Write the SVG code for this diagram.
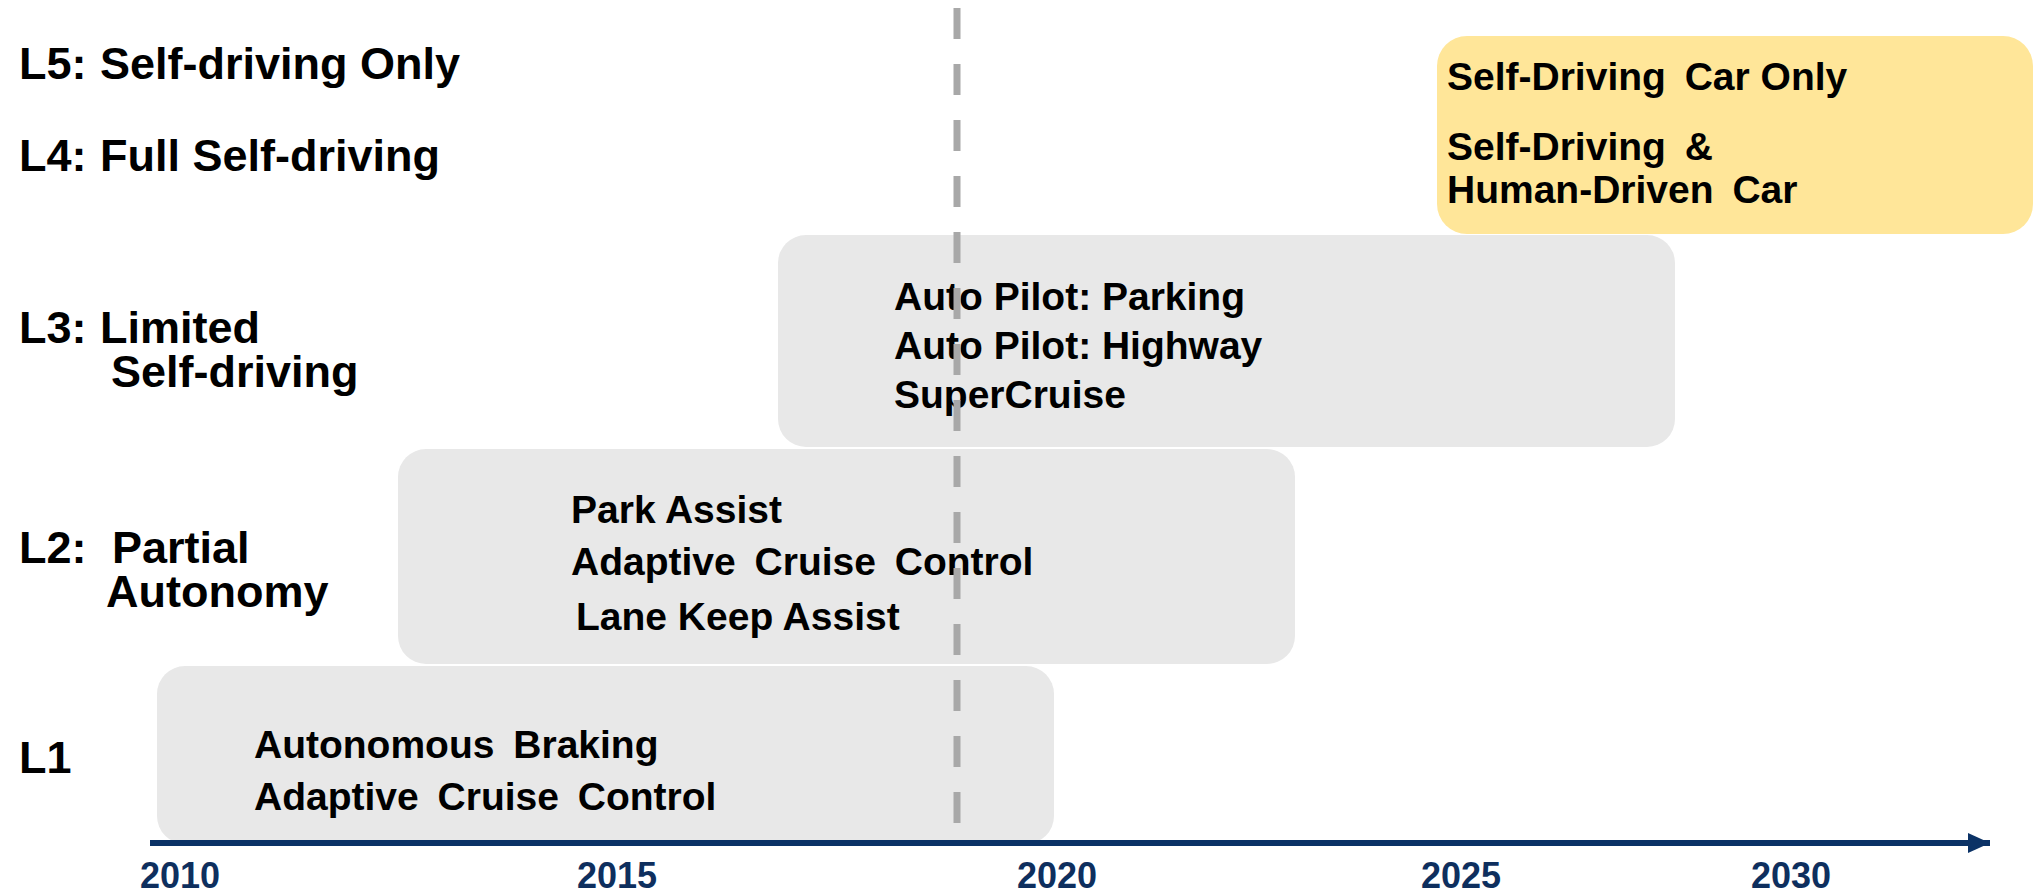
<svg xmlns="http://www.w3.org/2000/svg" width="2033" height="896" viewBox="0 0 2033 896">
<defs>
<style>
.lbl{font-family:"Liberation Sans",Arial,sans-serif;font-weight:bold;font-size:45px;fill:#000}
.txt{font-family:"Liberation Sans",Arial,sans-serif;font-weight:bold;font-size:39px;fill:#000}
.yr{font-family:"Liberation Sans",Arial,sans-serif;font-weight:bold;font-size:36px;fill:#0E2F5E;text-anchor:middle}
.gbox{fill:#E8E8E8}
.ybox{fill:#FFE699}
.axis{stroke:#0B3266;stroke-width:6;fill:none}
.dash{stroke:#A8A8A8;stroke-width:7;stroke-dasharray:31 25;fill:none}
</style>
<marker id="arr" markerUnits="userSpaceOnUse" markerWidth="24" markerHeight="22" refX="22" refY="11" orient="auto">
<path d="M0,1 L22,11 L0,21 Z" fill="#0B3266"/>
</marker>
</defs>
<rect width="2033" height="896" fill="#fff"/>

<g id="levels">
<text class="lbl" x="19" y="79">L5:<tspan x="100">Self-driving Only</tspan></text>
<text class="lbl" x="19" y="171">L4:<tspan x="100">Full Self-driving</tspan></text>
<text class="lbl" x="19" y="343">L3:<tspan x="100">Limited</tspan><tspan x="111" y="387">Self-driving</tspan></text>
<text class="lbl" x="19" y="563">L2:<tspan x="112">Partial</tspan><tspan x="106" y="607">Autonomy</tspan></text>
<text class="lbl" x="19" y="773">L1</text>
</g>

<g id="node-l1">
<rect class="gbox" x="157" y="666" width="897" height="178" rx="28"/>
<text class="txt" x="254" y="758" word-spacing="8">Autonomous Braking<tspan x="254" y="810">Adaptive Cruise Control</tspan></text>
</g>

<g id="node-l2">
<rect class="gbox" x="398" y="449" width="897" height="215" rx="28"/>
<text class="txt" x="571" y="523">Park Assist<tspan x="571" y="575" word-spacing="8">Adaptive Cruise Control</tspan><tspan x="576" y="630">Lane Keep Assist</tspan></text>
</g>

<g id="node-l3">
<rect class="gbox" x="778" y="235" width="897" height="212" rx="28"/>
<text class="txt" x="894" y="310">Auto Pilot: Parking<tspan x="894" y="359">Auto Pilot: Highway</tspan><tspan x="894" y="408">SuperCruise</tspan></text>
</g>

<g id="node-l45">
<rect class="ybox" x="1437" y="36" width="596" height="198" rx="30"/>
<text class="txt" x="1447" y="90">Self-Driving <tspan dx="8">Car Only</tspan></text>
<text class="txt" x="1447" y="160" word-spacing="8">Self-Driving &amp;<tspan x="1447" y="203">Human-Driven Car</tspan></text>
</g>

<g id="connectors">
<line class="axis" x1="150" y1="843" x2="1990" y2="843" marker-end="url(#arr)"/>
<line class="dash" x1="957" y1="8" x2="957" y2="823"/>
</g>

<g id="years">
<text class="yr" x="180" y="888">2010</text>
<text class="yr" x="617" y="888">2015</text>
<text class="yr" x="1057" y="888">2020</text>
<text class="yr" x="1461" y="888">2025</text>
<text class="yr" x="1791" y="888">2030</text>
</g>
</svg>
